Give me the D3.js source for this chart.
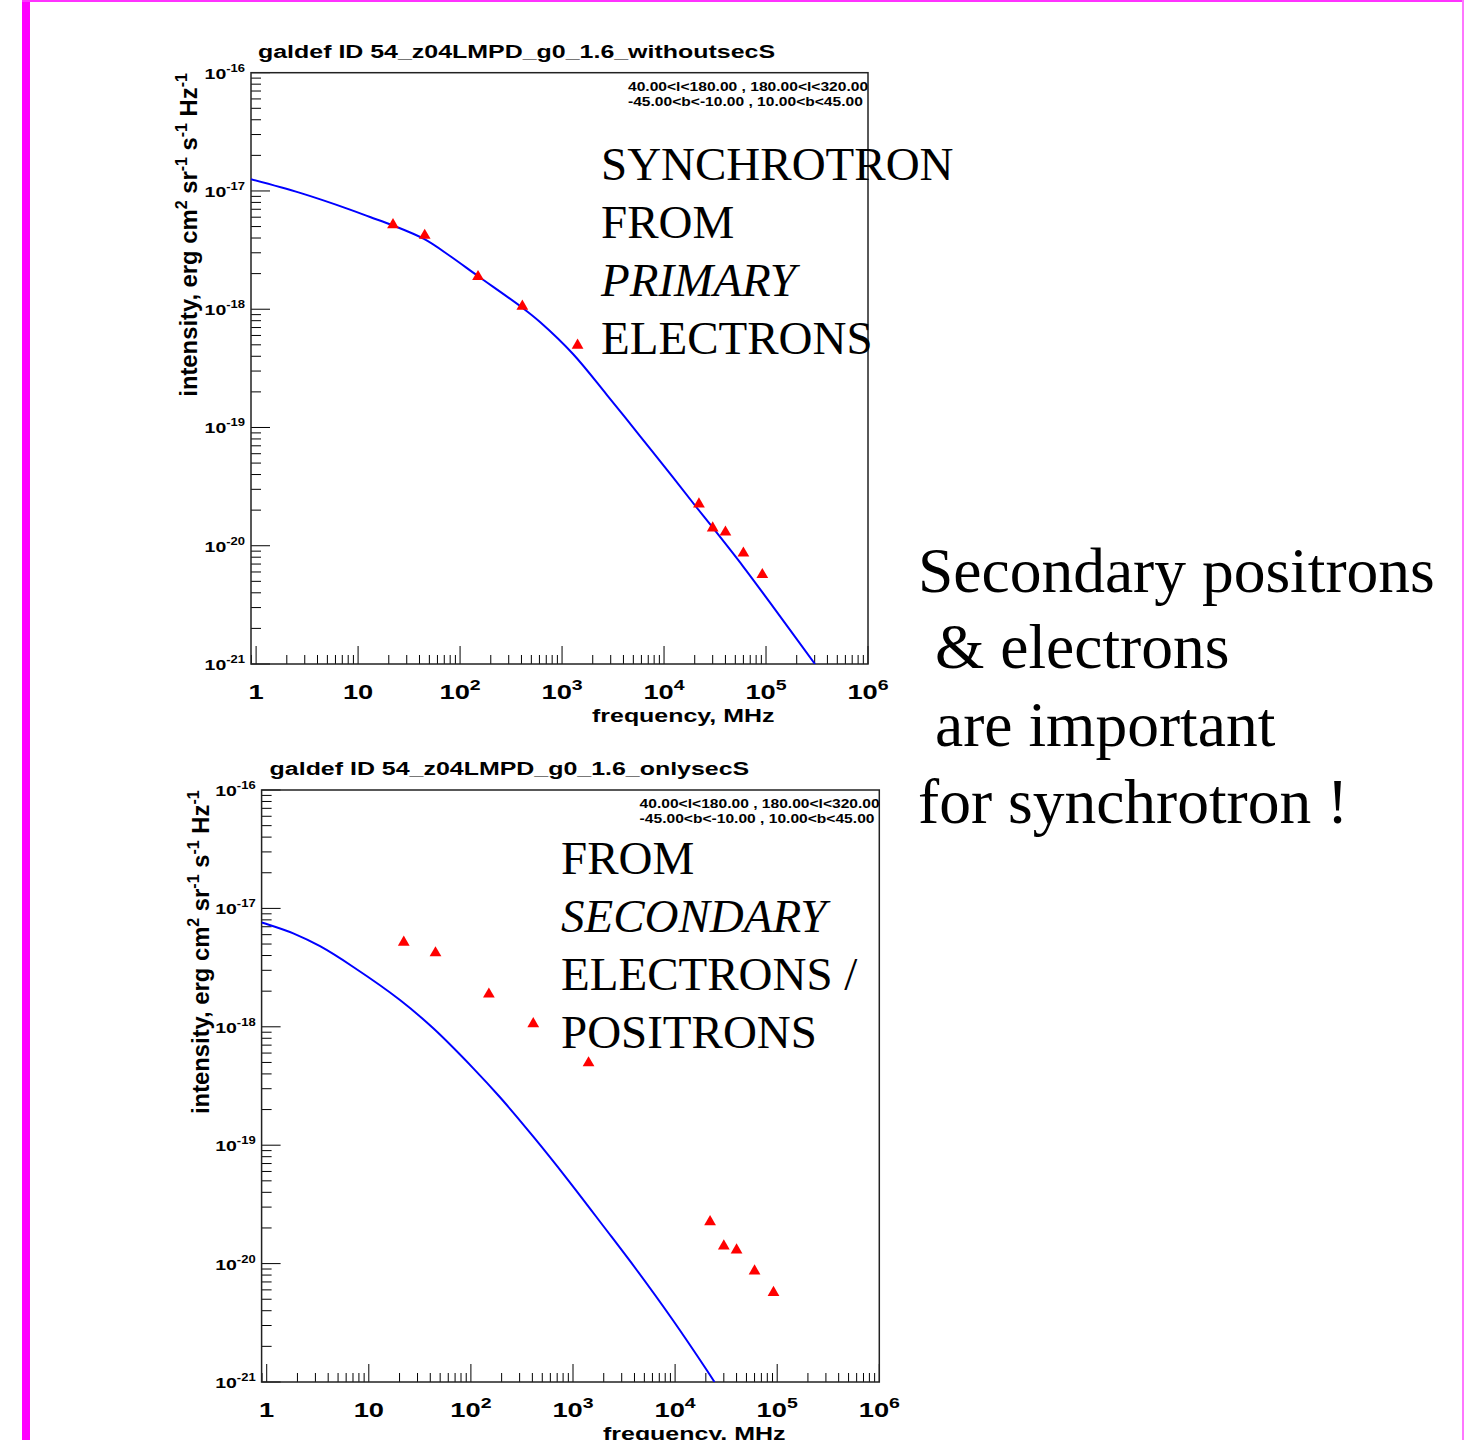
<!DOCTYPE html>
<html lang="en">
<head>
<meta charset="UTF-8">
<title>Synchrotron from primary and secondary electrons</title>
<script src="https://cdn.jsdelivr.net/npm/d3@7"></script>
<style>
  body { margin: 0; background: #fff; }
  text.root { font-family: "Liberation Sans", Arial, sans-serif; font-weight: bold; fill: #000; }
  text.serif { font-family: "Liberation Serif", "Times New Roman", serif; fill: #000; }
</style>
</head>
<body>
<script>
const width = 1464, height = 1440;

// observed sky: radio surveys + WMAP bands (MHz), intensity erg cm^-2 sr^-1 s^-1 Hz^-1
const obsFreq = [22, 45, 150, 408, 1420, 22000, 30000, 40000, 60000, 92000];
const obsIntensity = [5.33e-18, 4.33e-18, 1.94e-18, 1.09e-18, 5.1e-19, 2.32e-20, 1.45e-20, 1.34e-20, 8.9e-21, 5.86e-21];

// model without secondaries (primary electrons only)
const primaryFreq = [0.891, 2.70, 8.33, 13.1, 21.5, 44.3, 79.7, 147, 405, 608, 1281, 2760, 5815, 12250, 21060, 30220, 59500, 109500, 302000];
const primaryIntensity = [1.256e-17, 9.63e-18, 6.96e-18, 6.02e-18, 5.15e-18, 3.93e-18, 2.82e-18, 1.928e-18, 1.034e-18, 7.79e-19, 4.18e-19, 1.88e-19, 8.47e-20, 3.78e-20, 2.085e-20, 1.413e-20, 6.7e-21, 3.3e-21, 1e-21];

// model with only secondary electrons / positrons
const secondaryFreq = [0.891, 1.0, 1.82, 3.33, 7.05, 20.2, 42.8, 105.6, 192.8, 408.6, 867.6, 1981, 4206, 9603, 20390, 24320];
const secondaryIntensity = [7.6e-18, 7.38e-18, 6.16e-18, 4.79e-18, 3.2e-18, 1.684e-18, 9.71e-19, 4.46e-19, 2.54e-19, 1.18e-19, 5.25e-20, 2.077e-20, 8.83e-21, 3.29e-21, 1.263e-21, 1e-21];

const xDomain = [Math.pow(10, -0.05), 1e6];
const yDomain = [1e-21, 1e-16];
const xLabelValues = [1, 10, 100, 1e3, 1e4, 1e5, 1e6];
const yLabelValues = [1e-16, 1e-17, 1e-18, 1e-19, 1e-20, 1e-21];
const regionLines = ["40.00<l<180.00 , 180.00<l<320.00", "-45.00<b<-10.00 , 10.00<b<45.00"];

// ROOT text in the slide is stretched sideways
const SX = 1.3;

const svg = d3.select("body").append("svg")
    .attr("width", width).attr("height", height);

// magenta slide border
svg.append("rect").attr("x", 22).attr("y", 0).attr("width", 8).attr("height", height).attr("fill", "#ff00ff");
svg.append("rect").attr("x", 22).attr("y", 0).attr("width", width - 22).attr("height", 2).attr("fill", "#ff33ff");
svg.append("rect").attr("x", width - 2).attr("y", 0).attr("width", 2).attr("height", height).attr("fill", "#ff77ff");

const isDecade = v => Math.abs(Math.log10(v) - Math.round(Math.log10(v))) < 1e-6;
const place = (x, y) => `translate(${x},${y}) scale(${SX},1)`;

function drawPanel(p) {
    const x = d3.scaleLog().domain(xDomain).range([p.left, p.right]);
    const y = d3.scaleLog().domain(yDomain).range([p.bottom, p.top]);
    const g = svg.append("g");

    // title
    g.append("text").attr("class", "root")
        .attr("transform", place(p.left + p.titleDx, p.top - 15))
        .style("font-size", "19.2px")
        .text(p.title);

    // ticks
    g.selectAll("line.xtick").data(x.ticks()).join("line")
        .attr("class", "xtick")
        .attr("x1", d => x(d)).attr("x2", d => x(d))
        .attr("y1", p.bottom).attr("y2", d => p.bottom - (isDecade(d) ? 18 : 9))
        .attr("stroke", "#000").attr("stroke-width", 1);
    g.selectAll("line.ytick").data(y.ticks()).join("line")
        .attr("class", "ytick")
        .attr("y1", d => y(d)).attr("y2", d => y(d))
        .attr("x1", p.left).attr("x2", d => p.left + (isDecade(d) ? 19 : 10))
        .attr("stroke", "#000").attr("stroke-width", 1);

    // frame
    g.append("rect")
        .attr("x", p.left).attr("y", p.top)
        .attr("width", p.right - p.left).attr("height", p.bottom - p.top)
        .attr("fill", "none").attr("stroke", "#222").attr("stroke-width", 1.5);

    // x tick labels
    g.selectAll("text.xlab").data(xLabelValues).join("text")
        .attr("class", "root xlab")
        .attr("transform", d => place(x(d), p.bottom + 35))
        .attr("text-anchor", "middle")
        .style("font-size", "21px")
        .each(function(d) {
            const e = Math.round(Math.log10(d));
            const t = d3.select(this);
            if (e < 2) { t.text(String(d)); return; }
            t.append("tspan").text("10");
            t.append("tspan").attr("dy", -9).style("font-size", "15px").text(e);
        });

    // y tick labels
    g.selectAll("text.ylab").data(yLabelValues).join("text")
        .attr("class", "root ylab")
        .attr("transform", d => place(p.left - 6, y(d) + 6))
        .attr("text-anchor", "end")
        .style("font-size", "15px")
        .each(function(d) {
            const e = Math.round(Math.log10(d));
            const t = d3.select(this);
            t.append("tspan").text("10");
            t.append("tspan").attr("dy", -7).style("font-size", "10px").text(e);
        });

    // axis titles
    g.append("text").attr("class", "root")
        .attr("transform", place(p.xTitleX, p.bottom + 58))
        .style("font-size", "19.2px")
        .text("frequency, MHz");

    const yt = g.append("text").attr("class", "root")
        .attr("transform", `translate(${p.yTitleX},${p.top + 324}) rotate(-90)`)
        .style("font-size", "23.8px");
    [["intensity, erg cm", 0], ["2", 1], [" sr", 0], ["-1", 1], [" s", 0], ["-1", 1], [" Hz", 0], ["-1", 1]]
        .forEach(([s, sup], i, arr) => {
            const ts = yt.append("tspan").text(s);
            if (sup) ts.attr("dy", -10).style("font-size", "16px");
            else if (i > 0 && arr[i - 1][1]) ts.attr("dy", 10);
        });

    // region box text
    regionLines.forEach((line, i) => {
        g.append("text").attr("class", "root")
            .attr("transform", place(p.left + p.regionDx, p.top + 18 + i * 15))
            .style("font-size", "12px")
            .text(line);
    });

    // model curve
    const clipId = "clip" + p.id;
    g.append("clipPath").attr("id", clipId).append("rect")
        .attr("x", p.left).attr("y", p.top)
        .attr("width", p.right - p.left).attr("height", p.bottom - p.top);
    const curve = p.freq.map((f, i) => [f, p.intensity[i]]);
    g.append("path")
        .datum(curve)
        .attr("clip-path", `url(#${clipId})`)
        .attr("fill", "none").attr("stroke", "#0000ff").attr("stroke-width", 2)
        .attr("d", d3.line().x(d => x(d[0])).y(d => y(d[1])).curve(d3.curveCatmullRom.alpha(0.5)));

    // observed points
    const tri = d3.symbol(d3.symbolTriangle, 60)();
    g.selectAll("path.obs").data(obsFreq.map((f, i) => [f, obsIntensity[i]])).join("path")
        .attr("class", "obs")
        .attr("d", tri)
        .attr("transform", d => `translate(${x(d[0])},${y(d[1]) + 1.5})`)
        .attr("fill", "#ff0000");

    // slide annotation
    p.note.forEach((line, i) => {
        g.append("text").attr("class", "serif")
            .attr("x", p.noteX).attr("y", p.noteY + i * 58)
            .style("font-size", "47px")
            .style("font-style", line.italic ? "italic" : "normal")
            .text(line.text);
    });
}

drawPanel({
    id: 1, left: 251, right: 868, top: 72.7, bottom: 664,
    title: "galdef ID 54_z04LMPD_g0_1.6_withoutsecS", titleDx: 7,
    xTitleX: 592, yTitleX: 197, regionDx: 377,
    freq: primaryFreq, intensity: primaryIntensity,
    noteX: 601, noteY: 180,
    note: [{text: "SYNCHROTRON"}, {text: "FROM"}, {text: "PRIMARY", italic: true}, {text: "ELECTRONS"}]
});

drawPanel({
    id: 2, left: 261.6, right: 879.3, top: 790, bottom: 1382,
    title: "galdef ID 54_z04LMPD_g0_1.6_onlysecS", titleDx: 8,
    xTitleX: 603, yTitleX: 209, regionDx: 378,
    freq: secondaryFreq, intensity: secondaryIntensity,
    noteX: 561, noteY: 874,
    note: [{text: "FROM"}, {text: "SECONDARY", italic: true}, {text: "ELECTRONS /"}, {text: "POSITRONS"}]
});

// message on the right
const message = [
    {text: "Secondary positrons", x: 918, y: 592},
    {text: "& electrons", x: 935, y: 668},
    {text: "are important", x: 935, y: 746},
    {text: "for synchrotron !", x: 918, y: 823}
];
svg.selectAll("text.msg").data(message).join("text")
    .attr("class", "serif msg")
    .attr("x", d => d.x).attr("y", d => d.y)
    .style("font-size", "63.5px")
    .text(d => d.text);
</script>
</body>
</html>
